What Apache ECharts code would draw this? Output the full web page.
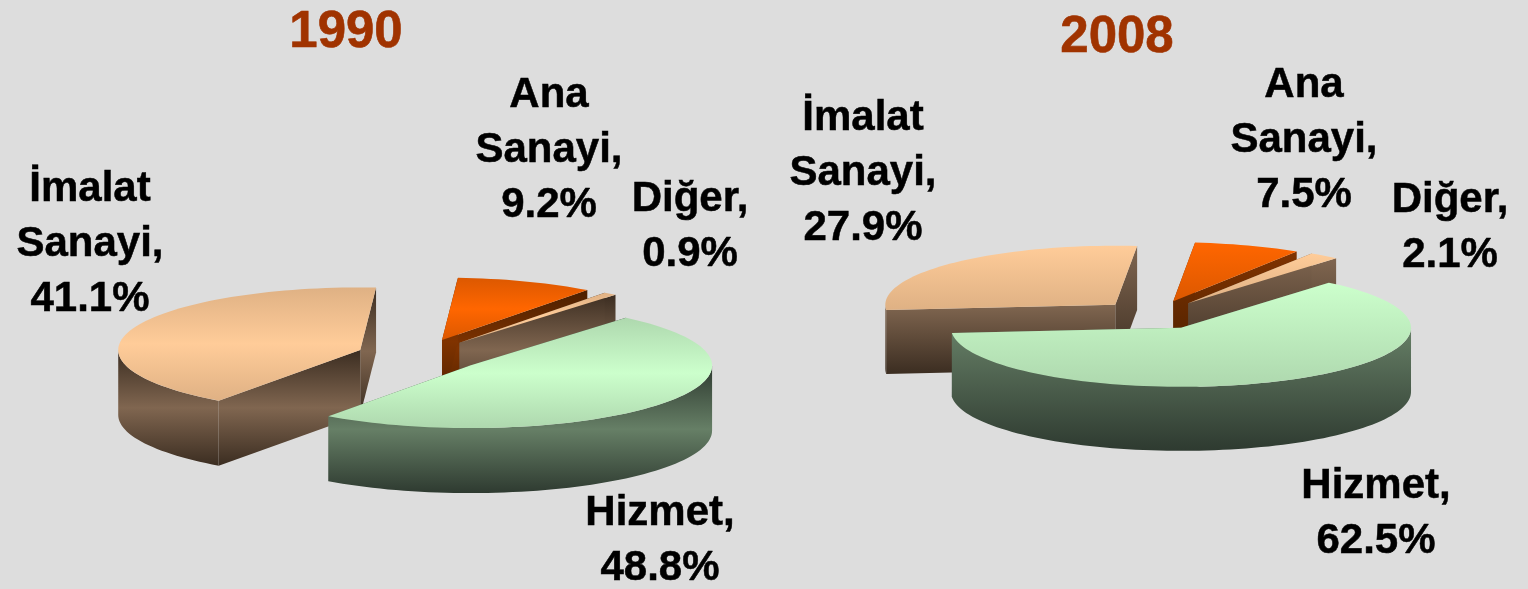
<!DOCTYPE html>
<html>
<head>
<meta charset="utf-8">
<title>1990 - 2008</title>
<script src="https://cdn.jsdelivr.net/npm/echarts@6/dist/echarts.min.js"></script>
<style>
  html, body { margin: 0; height: 100%; background: #dddddd; }
  #chart { width: 1528px; height: 589px; }
</style>
</head>
<body>
<div id="chart"></div>
<script>
const categories = ['İmalat Sanayi', 'Ana Sanayi', 'Diğer', 'Hizmet']
const values1990 = [41.1, 9.2, 0.9, 48.8]
const values2008 = [27.9, 7.5, 2.1, 62.5]
const years = ['1990', '2008']

const font = '"Liberation Sans", Arial, sans-serif'

// top / side colours per category: [full, tint] and [full, dark]
const topColors = [['#ffcc99', '#dfb184'], ['#ff6600', '#dc5800'], ['#ffcc99', '#dfb184'], ['#ccffcc', '#aed8ae']]
const sideColors = [['#806650', '#3b2d21'], ['#803300', '#4c2000'], ['#806650', '#3b2d21'], ['#667f66', '#2e3a30']]

// the two pies differ in shading: 1990 is lit in the middle, 2008 from the top
const layouts = [
  {
    cx: 420, cy: 355.5, rx: 242, ry: 62.5, depth: 65, explode: 0.2625, startDeg: -234.2, midLit: true,
    labels: [[90, 244], [549, 150], [690, 227], [660, 541]]
  },
  {
    cx: 1155, cy: 315, rx: 230, ry: 59, depth: 64, explode: 0.245, startDeg: -185, midLit: false,
    labels: [[863, 173], [1304, 140], [1450, 228], [1376, 514]]
  }
]

function shade(pair, midLit) {
  const stops = midLit
    ? [{ offset: 0, color: pair[1] }, { offset: 0.5, color: pair[0] }, { offset: 1, color: pair[1] }]
    : [{ offset: 0, color: pair[0] }, { offset: 1, color: pair[1] }]
  return new echarts.graphic.LinearGradient(0, 0, 0, 1, stops)
}

function labelText(name, value) {
  return name.split(' ').join('\n') + ',\n' + value.toFixed(1) + '%'
}

function renderSlice(values, layout) {
  return (params, api) => {
    const i = params.dataIndex
    const toRad = d => d * Math.PI / 180
    const before = values.slice(0, i).reduce((s, v) => s + v, 0)
    const t0 = layout.startDeg + before * 3.6
    const t1 = t0 + api.value(0) * 3.6
    const tm = toRad((t0 + t1) / 2)

    // exploded apex of this slice
    const ax = layout.cx + layout.explode * layout.rx * Math.cos(tm)
    const ay = layout.cy + layout.explode * layout.ry * Math.sin(tm)
    const rim = d => [ax + layout.rx * Math.cos(toRad(d)), ay + layout.ry * Math.sin(toRad(d))]
    const down = p => [p[0], p[1] + layout.depth]

    const arc = (from, to) => {
      const pts = []
      const n = Math.max(2, Math.ceil((to - from) / 2))
      for (let k = 0; k <= n; k++) pts.push(rim(from + (to - from) * k / n))
      return pts
    }

    const side = shade(sideColors[i], layout.midLit)
    const face = points => ({ type: 'polygon', shape: { points }, style: { fill: side } })
    const children = []

    // cut faces first, the top covers whatever is not visible of them
    const apex = [ax, ay]
    for (const d of [t1, t0]) {
      const p = rim(d)
      children.push(face([apex, p, down(p), down(apex)]))
    }

    // outer wall, only the part that faces the viewer
    for (const turn of [-360, 0, 360]) {
      const from = Math.max(t0, turn)
      const to = Math.min(t1, turn + 180)
      if (to > from) {
        const top = arc(from, to)
        children.push(face(top.concat(top.map(down).reverse())))
      }
    }

    children.push({
      type: 'polygon',
      shape: { points: [apex].concat(arc(t0, t1)) },
      style: { fill: shade(topColors[i], layout.midLit) }
    })

    children.push({
      type: 'text',
      x: layout.labels[i][0],
      y: layout.labels[i][1],
      z2: 10,
      style: {
        text: labelText(categories[i], api.value(0)),
        font: 'bold 42px ' + font,
        lineHeight: 55,
        fill: '#000000',
        stroke: '#000000',
        lineWidth: 0.5,
        align: 'center',
        verticalAlign: 'middle'
      }
    })

    return { type: 'group', children }
  }
}

function pieSeries(name, values, layout) {
  return {
    type: 'custom',
    name,
    coordinateSystem: 'none',
    clip: false,
    silent: true,
    data: values.map(v => [v]),
    renderItem: renderSlice(values, layout)
  }
}

const titleStyle = { color: '#a03300', fontFamily: font, fontWeight: 'bold', fontSize: 51, textBorderColor: '#a03300', textBorderWidth: 0.6 }

const chart = echarts.init(document.getElementById('chart'), null, { renderer: 'canvas' })
chart.setOption({
  animation: false,
  backgroundColor: '#dddddd',
  title: [
    { text: years[0], left: 341, top: 2, textAlign: 'center', textStyle: titleStyle },
    { text: years[1], left: 1112, top: 7, textAlign: 'center', textStyle: titleStyle }
  ],
  series: [
    pieSeries(years[0], values1990, layouts[0]),
    pieSeries(years[1], values2008, layouts[1])
  ]
})
</script>
</body>
</html>
